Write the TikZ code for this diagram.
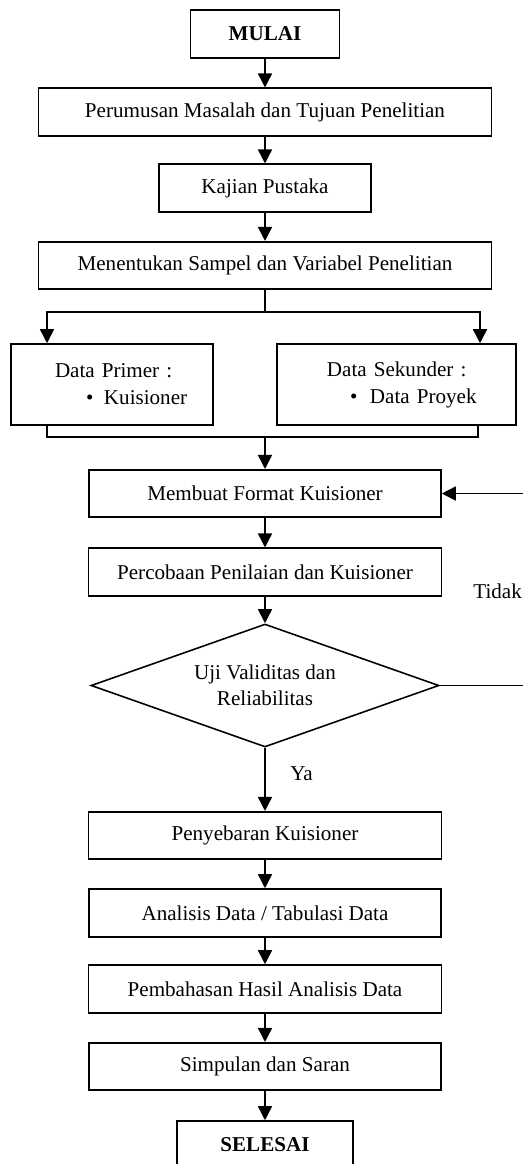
\documentclass[tikz,border=0pt]{standalone}
\usepackage{fontspec}
\setmainfont{Liberation Serif}
\usetikzlibrary{shapes.geometric,arrows.meta}

\begin{document}
\begin{tikzpicture}[
  proc/.style={draw,line width=0.9pt,inner sep=0pt,minimum height=0.95cm,font=\fontsize{12}{15.4}\selectfont},
  bold/.style={font=\fontsize{12}{15.4}\selectfont\bfseries},
  decide/.style={diamond,aspect=2.83,draw,line width=0.9pt,inner sep=0pt,minimum width=6.96cm,minimum height=2.46cm,align=center,font=\fontsize{12}{15}\selectfont},
  lbl/.style={inner sep=0pt,anchor=west,font=\fontsize{12}{15.4}\selectfont},
  flow/.style={line width=0.9pt,-{Triangle[length=0.28cm,width=0.28cm]}},
  link/.style={line width=0.9pt}
]
\useasboundingbox (0,0) rectangle (10.44,-23.28);
% main column
\node[proc,bold,minimum width=2.98cm] (mulai) at (5.3,-0.68) {MULAI};
\node[proc,minimum width=9.06cm] (rumus) at (5.3,-2.24) {Perumusan Masalah dan Tujuan Penelitian};
\node[proc,minimum width=4.24cm] (kajian) at (5.3,-3.76) {Kajian Pustaka};
\node[proc,minimum width=9.06cm] (tentu) at (5.3,-5.31) {Menentukan Sampel dan Variabel Penelitian};
% data boxes
\node[proc,minimum height=1.62cm,text width=4.04cm,align=left] (primer) at (2.24,-7.69)
  {\hspace*{0.88cm}Data Primer :\\\hspace*{0.88cm}\makebox[0.98cm][l]{\hspace{0.62cm}\textbullet}Kuisioner};
\node[proc,minimum height=1.62cm,text width=4.78cm,align=left] (sekunder) at (7.93,-7.69)
  {\hspace*{1.0cm}Data Sekunder :\\\hspace*{1.0cm}\makebox[0.86cm][l]{\hspace{0.46cm}\textbullet}Data Proyek};
\node[proc,minimum width=7.04cm] (format) at (5.3,-9.87) {Membuat Format Kuisioner};
\node[proc,minimum width=7.06cm] (coba) at (5.3,-11.44) {Percobaan Penilaian dan Kuisioner};
\node[decide] (uji) at (5.3,-13.71) {Uji Validitas dan\\Reliabilitas};
\node[proc,minimum width=7.06cm] (sebar) at (5.3,-16.71) {Penyebaran Kuisioner};
\node[proc,minimum width=7.04cm,minimum height=0.96cm] (analisis) at (5.3,-18.26) {Analisis Data / Tabulasi Data};
\node[proc,minimum width=7.06cm,minimum height=0.96cm] (bahas) at (5.3,-19.78) {Pembahasan Hasil Analisis Data};
\node[proc,minimum width=7.04cm] (simpul) at (5.3,-21.33) {Simpulan dan Saran};
\node[proc,bold,minimum width=3.52cm,minimum height=0.96cm] (selesai) at (5.3,-22.9) {SELESAI};
\node[lbl] (tidak) at (9.46,-11.82) {Tidak};
\node[lbl] (ya) at (5.8,-15.48) {Ya};
% branch points
\coordinate (split) at (5.3,-6.24);
\coordinate (splitL) at (0.94,-6.24);
\coordinate (splitR) at (9.6,-6.24);
\coordinate (mergeL) at (0.94,-8.74);
\coordinate (mergeR) at (9.56,-8.74);
\coordinate (loopR) at (10.5,-13.71);
% connectors
\draw[flow] (mulai) -- (rumus);
\draw[flow] (rumus) -- (kajian);
\draw[flow] (kajian) -- (tentu);
\draw[link] (tentu.south) -- (split);
\draw[flow] (split) -- (splitL) -- (splitL |- primer.north);
\draw[flow] (split) -- (splitR) -- (splitR |- sekunder.north);
\draw[link] (mergeL |- primer.south) -- (mergeL) -- (mergeR) -- (mergeR |- sekunder.south);
\draw[flow] (format |- mergeL) -- (format);
\draw[flow] (format) -- (coba);
\draw[flow] (coba) -- (uji);
\draw[flow] (uji.east) -- (loopR) |- (format.east);
\draw[flow] (uji) -- (sebar);
\draw[flow] (sebar) -- (analisis);
\draw[flow] (analisis) -- (bahas);
\draw[flow] (bahas) -- (simpul);
\draw[flow] (simpul) -- (selesai);
\end{tikzpicture}
\end{document}
